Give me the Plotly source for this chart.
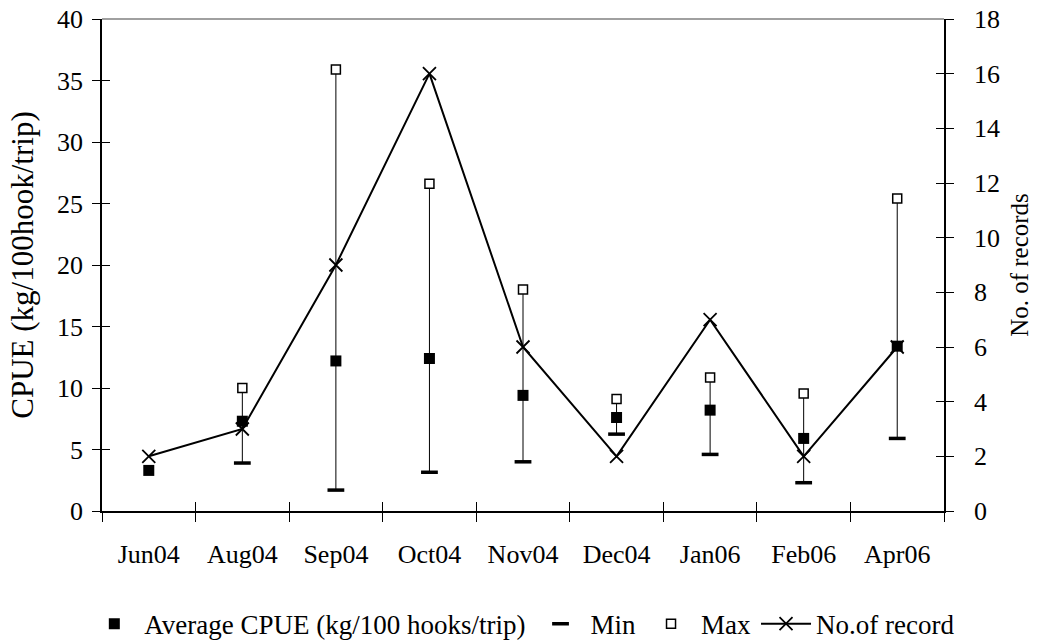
import plotly.graph_objects as go

months = ["Jun04", "Aug04", "Sep04", "Oct04", "Nov04", "Dec04", "Jan06", "Feb06", "Apr06"]
avg_cpue = [3.3, 7.3, 12.2, 12.4, 9.4, 7.6, 8.2, 5.9, 13.4]
min_cpue = [None, 3.9, 1.7, 3.15, 4.0, 6.25, 4.6, 2.3, 5.9]
max_cpue = [None, 10.0, 35.9, 26.6, 18.0, 9.1, 10.85, 9.55, 25.4]
n_records = [2, 3, 9, 16, 6, 2, 7, 2, 6]

FONT = "Liberation Serif, Times New Roman, serif"
whisker_minus = [None if (mx is None or mn is None) else mx - mn for mx, mn in zip(max_cpue, min_cpue)]

fig = go.Figure()

fig.add_trace(go.Scatter(
    x=months, y=n_records, name="No.of record", mode="lines+markers",
    line=dict(color="black", width=2),
    marker=dict(symbol="x-thin", size=13, line=dict(color="black", width=1.8)),
    xaxis="x", yaxis="y", legendrank=4,
))

fig.add_trace(go.Scatter(
    x=months, y=max_cpue, name="Max", mode="markers",
    marker=dict(symbol="square", size=9, color="white", line=dict(color="black", width=1.5)),
    error_y=dict(type="data", symmetric=False, array=[0] * len(months), arrayminus=whisker_minus,
                 width=0, thickness=1, color="black"),
    xaxis="x", yaxis="y2", legendrank=3,
))

fig.add_trace(go.Scatter(
    x=months, y=min_cpue, name="Min", mode="markers",
    marker=dict(symbol="line-ew", size=12, color="black", line=dict(color="black", width=3.5)),
    xaxis="x", yaxis="y2", legendrank=2,
))

fig.add_trace(go.Scatter(
    x=months, y=avg_cpue, name="Average CPUE (kg/100 hooks/trip)", mode="markers",
    marker=dict(symbol="square", size=11, color="black"),
    xaxis="x", yaxis="y2", legendrank=1,
))

# helper (invisible) traces so the inside-tick overlay axes are drawn
fig.add_trace(go.Scatter(x=months, y=[None] * len(months), xaxis="x2", yaxis="y3",
                         showlegend=False, hoverinfo="skip", mode="markers"))
fig.add_trace(go.Scatter(x=months, y=[None] * len(months), xaxis="x2", yaxis="y4",
                         showlegend=False, hoverinfo="skip", mode="markers"))

tickfont = dict(family=FONT, size=26, color="black")

fig.update_layout(
    template="none",
    width=1037, height=642,
    margin=dict(l=102, r=93, t=19, b=131, autoexpand=False),
    paper_bgcolor="white", plot_bgcolor="white",
    font=dict(family=FONT, color="black"),
    xaxis=dict(
        type="category", categoryorder="array", categoryarray=months,
        range=[-0.5, 8.5], tickson="boundaries",
        ticks="outside", ticklen=9, tickwidth=1, tickcolor="black",
        showline=True, linecolor="black", linewidth=1.5,
        showgrid=False, zeroline=False, tickfont=tickfont,
        ticklabelstandoff=19, automargin=False, anchor="y",
    ),
    xaxis2=dict(
        type="category", categoryorder="array", categoryarray=months,
        range=[-0.5, 8.5], tickson="boundaries", overlaying="x", anchor="y",
        ticks="inside", ticklen=9, tickwidth=1, tickcolor="black",
        showticklabels=False, showline=False, showgrid=False, zeroline=False,
        automargin=False,
    ),
    yaxis=dict(
        range=[0, 18], dtick=2, side="right", anchor="x",
        ticks="outside", ticklen=8, tickwidth=1, tickcolor="black",
        showline=True, linecolor="black", linewidth=1.5,
        showgrid=False, zeroline=False, tickfont=tickfont,
        ticklabelstandoff=15, automargin=False,
        title=dict(text="No. of records", font=dict(family=FONT, size=25, color="black"), standoff=12),
    ),
    yaxis2=dict(
        range=[0, 40], dtick=5, side="left", overlaying="y", anchor="x",
        ticks="outside", ticklen=8, tickwidth=1, tickcolor="black",
        showline=True, linecolor="black", linewidth=1.5,
        showgrid=False, zeroline=False, tickfont=tickfont,
        ticklabelstandoff=4, automargin=False,
        title=dict(text="CPUE (kg/100hook/trip)", font=dict(family=FONT, size=31, color="black"), standoff=14),
    ),
    yaxis3=dict(
        range=[0, 40], dtick=5, side="left", overlaying="y", anchor="x2",
        ticks="inside", ticklen=8, tickwidth=1, tickcolor="black",
        showticklabels=False, showline=False, showgrid=False, zeroline=False, automargin=False,
    ),
    yaxis4=dict(
        range=[0, 18], dtick=2, side="right", overlaying="y", anchor="x2",
        ticks="inside", ticklen=8, tickwidth=1, tickcolor="black",
        showticklabels=False, showline=False, showgrid=False, zeroline=False, automargin=False,
    ),
    legend=dict(
        orientation="h", x=-0.021, xanchor="left", y=-0.23, yanchor="middle",
        font=dict(family=FONT, size=27, color="black"), itemwidth=50,
        bgcolor="rgba(0,0,0,0)", itemclick=False, traceorder="normal",
    ),
    shapes=[dict(type="line", xref="paper", yref="paper", x0=0, x1=1, y0=1, y1=1,
                 line=dict(color="#808080", width=1.5))],
    showlegend=True,
)

fig.write_html("out.html")
